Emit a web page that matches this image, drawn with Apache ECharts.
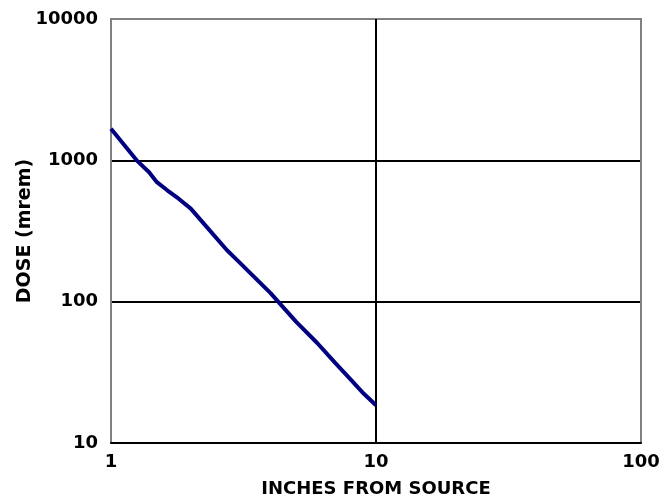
<!DOCTYPE html>
<html><head><meta charset="utf-8">
<script src="https://cdn.jsdelivr.net/npm/echarts@6/dist/echarts.min.js"></script>
<style>html,body{margin:0;padding:0;background:#fff}#c{width:670px;height:498px}</style>
</head><body><div id="c"></div>
<script>
const inches = [1, 1.25, 1.39, 1.49, 1.63, 1.8, 2.0, 2.3, 2.74, 3.0, 4.0, 5.0, 6.0, 7.0, 8.0, 9.0, 10];
const dose   = [1675, 1000, 826, 701, 614, 535, 455, 337, 231, 196, 115, 72, 51, 37, 28.3, 22.3, 18.5];
const xTitle = 'INCHES FROM SOURCE';
const yTitle = 'DOSE (mrem)';
const font = '"DejaVu Sans", Verdana, sans-serif';

const chart = echarts.init(document.getElementById('c'));
chart.setOption({
  animation: false,
  grid: { left: 111, right: 29, top: 19, bottom: 55, outerBoundsMode: 'none', containLabel: false, show: true, borderColor: '#808080', borderWidth: 2, backgroundColor: 'transparent' },
  xAxis: {
    type: 'log', logBase: 10, min: 1, max: 100,
    name: xTitle, nameLocation: 'middle', nameGap: 37, nameMoveOverlap: false,
    nameTextStyle: { fontFamily: font, fontWeight: 'bold', fontSize: 18, color: '#000' },
    axisLine: { show: true, lineStyle: { color: '#000', width: 2 } },
    axisTick: { show: false },
    axisLabel: { fontFamily: font, fontWeight: 'bold', fontSize: 18, color: '#000', margin: 10, formatter: v => String(Math.round(v)) },
    splitLine: { show: true, lineStyle: { color: ['#808080', '#000', '#808080'], width: 2 } }
  },
  yAxis: {
    type: 'log', logBase: 10, min: 10, max: 10000,
    name: yTitle, nameLocation: 'middle', nameGap: 76, nameRotate: 90, nameMoveOverlap: false,
    nameTextStyle: { fontFamily: font, fontWeight: 'bold', fontSize: 19, color: '#000' },
    axisLine: { show: false },
    axisTick: { show: false },
    axisLabel: { fontFamily: font, fontWeight: 'bold', fontSize: 18, color: '#000', margin: 13, formatter: v => String(Math.round(v)) },
    splitLine: { show: true, lineStyle: { color: ['#000', '#000', '#000', '#808080'], width: 2 } }
  },
  series: [{
    type: 'line', data: inches.map((x, i) => [x, dose[i]]),
    showSymbol: false, symbol: 'none',
    lineStyle: { color: '#000080', width: 4 }
  }]
});
</script></body></html>
